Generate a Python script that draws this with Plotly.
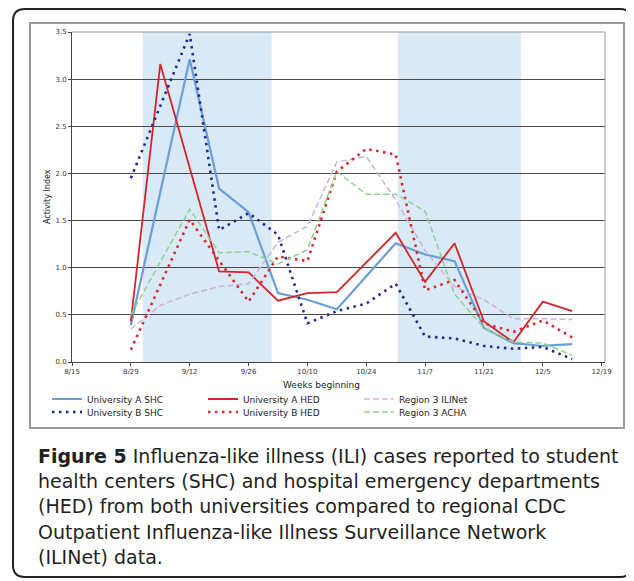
import plotly.graph_objects as go

# ---------------- data ----------------
weeks = ["2009-08-29", "2009-09-05", "2009-09-12", "2009-09-19", "2009-09-26",
         "2009-10-03", "2009-10-10", "2009-10-17", "2009-10-24", "2009-10-31",
         "2009-11-07", "2009-11-14", "2009-11-21", "2009-11-28", "2009-12-05",
         "2009-12-12"]
univ_a_shc = [0.39, None, 3.21, 1.84, 1.59, 0.73, 0.66, 0.56, None, 1.26,
              1.14, 1.07, 0.36, 0.20, 0.17, 0.19]
univ_a_hed = [0.43, 3.16, None, 0.96, 0.95, 0.65, 0.73, 0.74, None, 1.37,
              0.85, 1.26, 0.43, 0.21, 0.64, 0.54]
univ_b_shc = [1.95, None, 3.48, 1.40, 1.58, 1.35, 0.41, 0.54, 0.62, 0.83,
              0.27, 0.25, 0.17, 0.14, 0.16, 0.03]
univ_b_hed = [0.13, None, 1.51, None, 0.64, 1.12, 1.07, 2.02, 2.26, 2.20,
              0.76, 0.87, 0.41, 0.32, 0.44, 0.26]
region3_ilinet = [0.35, 0.60, 0.72, 0.80, 0.83, 1.27, 1.44, 2.12, 2.18, 1.72,
                  1.18, 0.80, 0.66, 0.46, 0.46, 0.45]
region3_acha = [0.50, None, 1.62, 1.16, 1.17, 1.04, 1.19, 2.02, 1.78, 1.78,
                1.60, 0.72, 0.36, 0.21, 0.20, 0.07]

tick_dates = ["2009-08-15", "2009-08-29", "2009-09-12", "2009-09-26", "2009-10-10",
              "2009-10-24", "2009-11-07", "2009-11-21", "2009-12-05", "2009-12-19"]
tick_labels = ["8/15", "8/29", "9/12", "9/26", "10/10", "10/24", "11/7", "11/21",
               "12/5", "12/19"]
y_ticks = [0, 0.5, 1.0, 1.5, 2.0, 2.5, 3.0, 3.5]
shade_periods = [("2009-08-31 20:00", "2009-10-01 12:00"),
                 ("2009-10-31 12:00", "2009-11-29 19:00")]

caption_lines = [
    "<b>Figure 5</b> Influenza-like illness (ILI) cases reported to student",
    "health centers (SHC) and hospital emergency departments",
    "(HED) from both universities compared to regional CDC",
    "Outpatient Influenza-like Illness Surveillance Network",
    "(ILINet) data.",
]

# ---------------- layout helpers ----------------
OFF = 8                      # page body margin
W, H = 634 - OFF, 581 - OFF  # figure size
# plot area in page pixels
L, R, T, B = 72, 605, 32, 362


def px(x):
    return (x - L) / (R - L)


def py(y):
    return (B - y) / (B - T)


CHART_FONT = "DejaVu Sans"

fig = go.Figure()

series = [
    ("University A SHC", univ_a_shc, dict(color="#6a9fd6", width=2.2), "legend"),
    ("University A HED", univ_a_hed, dict(color="#d3242b", width=1.8), "legend"),
    ("Region 3 ILINet", region3_ilinet, dict(color="#c9b3dc", width=1.5, dash="6px,3px"), "legend"),
    ("University B SHC", univ_b_shc, dict(color="#262a8c", width=2.6, dash="2.5px,4.5px"), "legend2"),
    ("University B HED", univ_b_hed, dict(color="#d9282f", width=2.6, dash="2.5px,4.5px"), "legend2"),
    ("Region 3 ACHA", region3_acha, dict(color="#8fd18f", width=1.5, dash="6px,3px"), "legend2"),
]
for name, vals, line, leg in series:
    fig.add_trace(go.Scatter(x=weeks, y=vals, name=name, mode="lines", line=line,
                             connectgaps=True, legend=leg))

shapes = []
for x0, x1 in shade_periods:
    shapes.append(dict(type="rect", xref="x", yref="paper", x0=x0, x1=x1, y0=0, y1=1,
                       fillcolor="#d9e9f6", line=dict(width=0), layer="below"))
# plot area border (top/right gray)
shapes.append(dict(type="path", xref="paper", yref="paper",
                   path="M0,1 L1,1 L1,0", line=dict(color="#9a9a9a", width=1)))
# chart frame
shapes.append(dict(type="rect", xref="paper", yref="paper",
                   x0=px(30), x1=px(624), y0=py(428), y1=py(23),
                   line=dict(color="#9a9a9a", width=2)))
# outer rounded caption box
r = 12
x0, x1, y0, y1 = 13, 632, 9, 577
path = (f"M{px(x0)},{py(y0 + r)} Q{px(x0)},{py(y0)} {px(x0 + r)},{py(y0)} "
        f"L{px(x1 - r)},{py(y0)} Q{px(x1)},{py(y0)} {px(x1)},{py(y0 + r)} "
        f"L{px(x1)},{py(y1 - r)} Q{px(x1)},{py(y1)} {px(x1 - r)},{py(y1)} "
        f"L{px(x0 + r)},{py(y1)} Q{px(x0)},{py(y1)} {px(x0)},{py(y1 - r)} Z")
shapes.append(dict(type="path", xref="paper", yref="paper", path=path,
                   line=dict(color="#222222", width=2)))

annotations = [
    dict(text="Activity Index", xref="paper", yref="paper", x=px(47), y=py(197),
         xanchor="center", yanchor="middle",
         textangle=-90, showarrow=False, font=dict(family=CHART_FONT, size=8, color="#222")),
    dict(text="Weeks beginning", xref="paper", yref="paper", x=px(321), y=py(385),
         xanchor="center", yanchor="middle",
         showarrow=False, font=dict(family=CHART_FONT, size=9, color="#222")),
]
cap_y = [456, 481, 506, 532, 557]
for txt, yy in zip(caption_lines, cap_y):
    annotations.append(dict(text=txt, xref="paper", yref="paper", x=px(37), y=py(yy),
                            xanchor="left", yanchor="middle", showarrow=False,
                            borderpad=0,
                            font=dict(family="DejaVu Sans", size=19, color="#231f20")))

legend_common = dict(orientation="h", xanchor="left", yanchor="middle",
                     entrywidth=111, entrywidthmode="pixels", itemwidth=30,
                     bgcolor="rgba(0,0,0,0)",
                     font=dict(family=CHART_FONT, size=9, color="#222"))

fig.update_layout(
    width=W, height=H,
    margin=dict(l=L - OFF, r=W - (R - OFF), t=T - OFF, b=H - (B - OFF)),
    paper_bgcolor="white", plot_bgcolor="white",
    showlegend=True,
    legend=dict(x=px(47), y=py(399), **legend_common),
    legend2=dict(x=px(47), y=py(412), **legend_common),
    xaxis=dict(type="date", range=["2009-08-15", "2009-12-19 19:00"],
               tickvals=tick_dates, ticktext=tick_labels,
               ticks="outside", ticklen=3, tickcolor="#444",
               showline=True, linecolor="#444", linewidth=1,
               showgrid=False, zeroline=False,
               tickfont=dict(family=CHART_FONT, size=7, color="#333")),
    yaxis=dict(range=[0, 3.5], tickvals=y_ticks, tickformat=".1f",
               ticks="outside", ticklen=3, tickcolor="#444",
               showline=True, linecolor="#444", linewidth=1,
               showgrid=True, gridcolor="#4a4a4a", gridwidth=1, zeroline=False,
               tickfont=dict(family=CHART_FONT, size=7, color="#333")),
    shapes=shapes,
    annotations=annotations,
)

fig.write_html("out.html")
